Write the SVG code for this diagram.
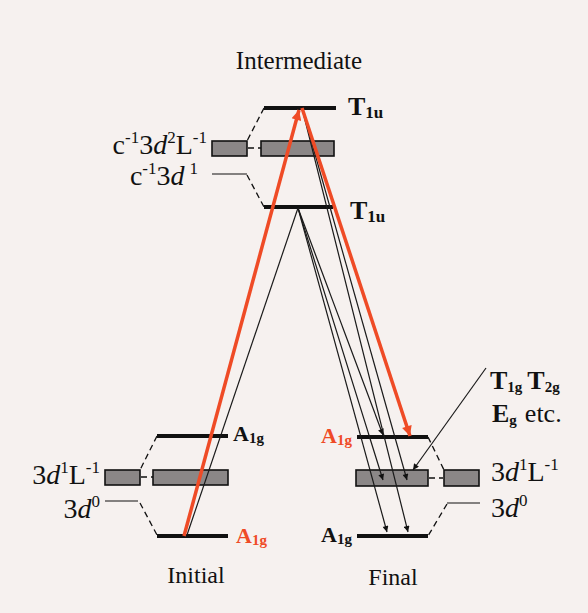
<svg xmlns="http://www.w3.org/2000/svg" width="588" height="613" viewBox="0 0 588 613">
<style>
  .bg{fill:#f6f1ef}
  .lvl{stroke:#111;stroke-width:4;fill:none;stroke-linecap:butt}
  .thin{stroke:#111;stroke-width:1.2;fill:none}
  .dash{stroke:#111;stroke-width:1.3;fill:none;stroke-dasharray:6 4}
  .box{fill:#8b8787;stroke:#111;stroke-width:1.6}
  .red{stroke:#ef4b26;stroke-width:3.5;fill:none}
  .blk{stroke:#1a1a1a;stroke-width:1.2;fill:none}
  text{font-family:"Liberation Serif","Times New Roman",serif;fill:#111}
  .big{font-size:28px}
  .sym{font-size:26px;font-weight:bold}
  .a1g{font-size:22px;font-weight:bold}
  .it{font-style:italic}
  .redt{fill:#ef4b26}
</style>
<defs>
  <marker id="ar" viewBox="0 0 10 10" refX="10" refY="5" markerUnits="userSpaceOnUse" markerWidth="8" markerHeight="6" orient="auto">
    <path d="M0,0 L10,5 L0,10 z" fill="#111"/>
  </marker>
  <marker id="arr" viewBox="0 0 10 10" refX="10" refY="5" markerUnits="userSpaceOnUse" markerWidth="16" markerHeight="10" orient="auto">
    <path d="M0,0 L10,5 L0,10 z" fill="#ef4b26"/>
  </marker>
</defs>
<rect class="bg" x="0" y="0" width="588" height="613"/>

<g id="title-intermediate"><text x="299" y="69" font-size="25" text-anchor="middle">Intermediate</text></g>

<g id="int-T1u-top">
  <line class="lvl" x1="264" y1="108" x2="336" y2="108"/>
  <text class="sym" x="348" y="115">T<tspan font-size="17" dy="3">1u</tspan></text>
</g>
<g id="int-c3d2L">
  <rect class="box" x="212" y="141" width="35" height="15"/>
  <rect class="box" x="261" y="141" width="73" height="15"/>
  <text class="big" x="207" y="154" text-anchor="end">c<tspan font-size="17" dy="-11">-1</tspan><tspan dy="11">3</tspan><tspan class="it">d</tspan><tspan font-size="17" dy="-11">2</tspan><tspan dy="11">L</tspan><tspan font-size="17" dy="-11">-1</tspan></text>
</g>
<g id="int-c3d1">
  <line class="thin" x1="212" y1="174" x2="247" y2="174"/>
  <text class="big" x="198" y="185" text-anchor="end">c<tspan font-size="17" dy="-11">-1</tspan><tspan dy="11">3</tspan><tspan class="it">d</tspan><tspan font-size="17" dx="5" dy="-11">1</tspan></text>
</g>
<g id="int-T1u-low">
  <line class="lvl" x1="264" y1="207" x2="333" y2="207"/>
  <text class="sym" x="350" y="219">T<tspan font-size="17" dy="3">1u</tspan></text>
</g>

<g id="init-A1g-up">
  <line class="lvl" x1="157" y1="436" x2="228" y2="436"/>
  <text class="a1g" x="233" y="441">A<tspan font-size="15" dy="2">1g</tspan></text>
</g>
<g id="init-3d1L">
  <rect class="box" x="105" y="470" width="35" height="15"/>
  <rect class="box" x="153" y="470" width="75" height="15"/>
  <text class="big" x="100" y="484" text-anchor="end">3<tspan class="it">d</tspan><tspan font-size="17" dy="-11">1</tspan><tspan dy="11">L</tspan><tspan font-size="17" dy="-11">-1</tspan></text>
</g>
<g id="init-3d0">
  <line class="thin" x1="105" y1="501" x2="138" y2="501"/>
  <text class="big" x="100" y="518" text-anchor="end">3<tspan class="it">d</tspan><tspan font-size="17" dy="-11">0</tspan></text>
</g>
<g id="init-A1g-low">
  <line class="lvl" x1="157" y1="536" x2="228" y2="536"/>
  <text class="a1g redt" x="236" y="543">A<tspan font-size="15" dy="2">1g</tspan></text>
</g>
<g id="title-initial"><text x="196" y="583" font-size="24" text-anchor="middle">Initial</text></g>

<g id="fin-A1g-up">
  <line class="lvl" x1="357" y1="437" x2="428" y2="437"/>
  <text class="a1g redt" x="352" y="443" text-anchor="end">A<tspan font-size="15" dy="2">1g</tspan></text>
</g>
<g id="fin-3d1L">
  <rect class="box" x="356" y="470" width="72" height="16"/>
  <rect class="box" x="444" y="470" width="35" height="16"/>
  <text class="big" x="491" y="481">3<tspan class="it">d</tspan><tspan font-size="17" dy="-11">1</tspan><tspan dy="11">L</tspan><tspan font-size="17" dy="-11">-1</tspan></text>
</g>
<g id="fin-3d0">
  <line class="thin" x1="447" y1="503" x2="480" y2="503"/>
  <text class="big" x="491" y="517">3<tspan class="it">d</tspan><tspan font-size="17" dy="-11">0</tspan></text>
</g>
<g id="fin-A1g-low">
  <line class="lvl" x1="357" y1="536" x2="428" y2="536"/>
  <text class="a1g" x="352" y="542" text-anchor="end">A<tspan font-size="15" dy="2">1g</tspan></text>
</g>
<g id="title-final"><text x="393" y="585" font-size="24" text-anchor="middle">Final</text></g>

<g id="label-T1gT2gEg">
  <text class="sym" x="490" y="389" font-size="24">T<tspan font-size="15" dy="3">1g</tspan><tspan dx="5" dy="-3">T</tspan><tspan font-size="15" dy="3">2g</tspan></text>
  <text class="sym" x="492" y="422" font-size="24">E<tspan font-size="15" dy="3">g</tspan><tspan font-weight="normal" dx="8" dy="-3">etc.</tspan></text>
</g>

<g id="connectors">
  <!-- dashed correlations -->
  <line class="dash" x1="264" y1="108" x2="247" y2="141"/>
  <line class="dash" x1="248" y1="148" x2="261" y2="148"/>
  <line class="dash" x1="247" y1="175" x2="264" y2="207"/>
  <line class="dash" x1="157" y1="436" x2="140" y2="470"/>
  <line class="dash" x1="141" y1="477" x2="153" y2="477"/>
  <line class="dash" x1="140" y1="503" x2="157" y2="535"/>
  <line class="dash" x1="428" y1="437" x2="444" y2="470"/>
  <line class="dash" x1="429" y1="478" x2="443" y2="478"/>
  <line class="dash" x1="447" y1="504" x2="428" y2="536"/>
  <!-- black transitions -->
  <line class="blk" x1="298" y1="208" x2="187" y2="535"/>
  <line class="blk" x1="298" y1="208" x2="383" y2="435" marker-end="url(#ar)"/>
  <line class="blk" x1="298" y1="208" x2="383" y2="480" marker-end="url(#ar)"/>
  <line class="blk" x1="298" y1="208" x2="387" y2="532" marker-end="url(#ar)"/>
  <line class="blk" x1="302" y1="108" x2="407" y2="480" marker-end="url(#ar)"/>
  <line class="blk" x1="302" y1="108" x2="408" y2="532" marker-end="url(#ar)"/>
  <line class="blk" x1="486" y1="368" x2="413" y2="470" marker-end="url(#ar)"/>
  <!-- red transitions -->
  <line class="red" x1="184" y1="536" x2="299" y2="110" marker-end="url(#arr)"/>
  <line class="red" x1="302" y1="108" x2="410" y2="436" marker-end="url(#arr)"/>
</g>
</svg>
